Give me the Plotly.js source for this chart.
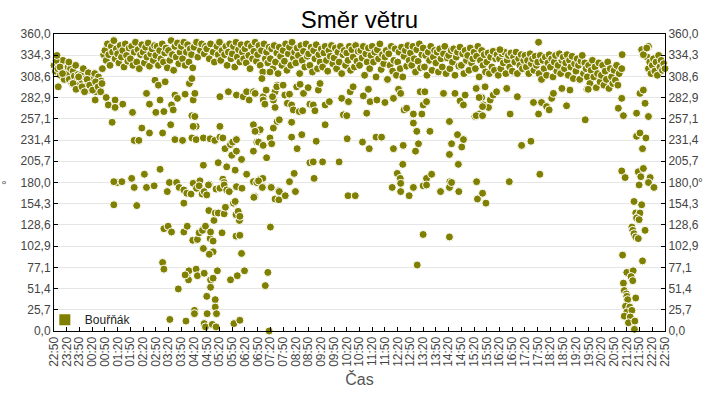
<!DOCTYPE html>
<html>
<head>
<meta charset="utf-8">
<script src="https://cdn.plot.ly/plotly-3.0.1.min.js"></script>
<style>html,body{margin:0;padding:0;background:#fff;}#chart{width:720px;height:400px;}</style>
</head>
<body>
<div id="chart"></div>
<script>
// Time axis: minutes after 22:50 (start of the 24 h window)
const timeLabels = ["22:50","23:20","23:50","00:20","00:50","01:20","01:50","02:20","02:50","03:20","03:50","04:20","04:50","05:20","05:50","06:20","06:50","07:20","07:50","08:20","08:50","09:20","09:50","10:20","10:50","11:20","11:50","12:20","12:50","13:20","13:50","14:20","14:50","15:20","15:50","16:20","16:50","17:20","17:50","18:20","18:50","19:20","19:50","20:20","20:50","21:20","21:50","22:20","22:50"];
const dirLabels = ["0,0","25,7","51,4","77,1","102,9","128,6","154,3","180,0","205,7","231,4","257,1","282,9","308,6","334,3","360,0"];

// Regular samples (every 3 minutes from 22:50), wind direction in degrees
const sampleStepMin = 3;
const sampleDirs = [
322,315,330,318,326,310,321,328,305,317,
312,320,305,318,300,315,309,322,303,311,
298,310,304,318,295,306,300,313,292,302,
305,296,312,290,300,308,294,303,318,335,
340,328,348,335,322,345,338,352,330,342,
336,325,346,332,340,320,348,334,327,343,
330,345,322,338,350,326,341,318,335,347,
338,325,344,332,349,321,336,342,328,346,
334,345,322,340,330,348,326,337,343,319,
340,328,352,335,316,345,332,349,324,338,
345,330,350,322,338,347,326,342,335,319,
344,null,350,332,null,340,348,null,336,345,
342,null,330,348,null,338,326,null,345,335,
350,328,340,null,335,345,322,338,348,330,
336,345,320,350,332,341,326,347,338,330,
342,325,348,334,318,345,330,339,350,327,
335,346,322,340,314,348,330,338,325,344,
330,342,318,346,326,337,312,344,333,322,
340,327,348,316,336,344,322,350,331,338,
325,343,334,312,346,328,339,320,348,333,
336,322,344,314,340,330,347,318,335,326,
342,320,337,345,328,315,340,333,346,324,
331,343,318,338,326,345,312,335,340,322,
337,328,345,316,341,332,320,346,327,339,
322,340,331,345,310,336,326,343,318,334,
345,326,338,308,341,330,348,317,335,324,
332,340,305,336,322,345,315,328,342,310,
326,338,318,344,308,333,340,321,346,328,
337,322,345,330,314,341,327,348,319,335,
343,320,334,310,338,328,345,316,332,340,
325,338,314,342,330,320,336,345,312,331,
334,318,340,326,342,310,332,338,321,344,
322,336,312,340,328,334,316,343,325,330,
338,318,333,345,308,328,340,322,335,314,
326,337,312,332,320,339,316,330,335,310,
330,318,336,325,338,312,328,334,320,337,
315,332,326,338,312,330,322,335,318,328,
334,320,328,312,336,324,330,316,333,322,
326,312,334,305,328,318,332,310,325,335,
320,330,308,326,334,315,322,336,312,328,
332,318,325,335,310,328,320,333,306,324,
315,330,322,305,327,334,312,325,318,308,
322,300,316,328,308,320,295,312,325,302,
310,322,298,315,305,326,294,318,308,300,
316,304,322,298,312,null,318,null,null,null,
null,null,null,null,null,null,null,null,null,null,
null,null,null,null,null,null,332,318,326,312,
322,330,315,326,310,334,320,328,316,324,
318
];

// Additional readings (gusty / turning wind), minute after 22:50 and direction
const extraMinutes = [
5,7,10,14,20,35,45,52,58,66,72,78,84,91,97,98,104,110,113,
123,128,137,144,144,162,185,218,225,250,240,259,277,281,285,291,309,319,328,332,325,332,335,328,
189,200,207,225,256,275,285,303,325,335,352,368,379,391,398,391,403,416,421,430,419,430,442,470,478,482,486,470,490,501,509,517,526,521,
149,160,141,183,213,250,272,289,328,344,352,366,387,398,401,407,427,454,470,478,486,492,
430,446,454,460,490,493,517,526,509,391,411,325,238,246,262,
189,218,236,141,195,267,295,306,306,313,323,336,342,349,354,360,364,382,391,401,407,413,430,443,492,473,511,521,529,530,
259,269,277,306,314,327,338,342,350,352,357,365,368,369,375,377,380,387,375,366,396,401,404,423,427,429,434,437,438,429,438,442,
256,259,313,318,317,309,335,338,354,369,375,385,416,432,449,504,498,
293,369,360,380,380,383,331,331,361,273,311,354,357,373,382,424,438,507,
470,474,500,493,497,521,515,525,540,544,555,550,560,564,572,580,578,588,586,599,603,611,615,623,627,639,649,678,682,690,694,698,705,729,741,737,745,761,780,800,812,817,825,831,847,847,855,867,863,874,870,878,886,918,932,945,957,965,969,996,992,1002,1008,1012,1024,
474,482,493,513,531,560,560,573,584,603,611,618,633,639,672,691,727,743,759,772,800,823,822,852,859,932,937,951,953,965,961,
482,555,566,613,809,816,817,878,890,933,996,
491,471,512,531,545,569,693,710,797,817,837,847,870,878,911,932,954,998,1010,1018,510,870,932,856,937,
995,1002,1010,995,1010,1016,1028,1035,1043,1051,1067,1075,1092,1130,1142,1142,1149,1161,1167,1173,1177,1197,1208,1216,1252,1256,1259,1330,1338,1342,1339,1373,1401,1381,1389,1393,1385,1401,1389,1397,
1102,1124,1145,1373,1381,1395,1387,1338,1346,1377,1389,1383,1405,1073,
1401,1379,1414,1367,1385,1371,1377,1381,1373,1379,1393,1362,1364,1367,1371,1377,1340,1387,1350,1365,1360,1364,1342,1344,1349,1350,1352,1371,1347,1357,1350,1362,1344,1358,1354,1369,1368
];
const extraDirs = [
328,334,296,320,312,326,300,293,308,296,290,305,298,292,280,302,296,290,300,
283,274,253,280,271,275,265,288,275,280,265,266,274,268,286,282,287,300,280,288,261,260,248,248,
231,231,246,240,240,250,232,231,234,232,234,233,231,235,234,248,221,226,229,232,213,218,208,218,229,242,244,250,227,210,234,246,254,271,
180,181,181,185,190,196,180,180,179,182,201,178,204,184,180,199,195,190,181,180,184,185,
286,284,290,280,306,284,280,298,314,284,290,306,304,298,302,
174,174,176,153,152,169,174,171,155,167,166,173,176,166,169,165,177,172,173,177,171,169,175,173,175,163,175,160,170,159,
124,127,120,120,127,110,111,119,122,100,127,146,112,120,109,134,143,143,96,93,119,142,150,155,157,141,145,134,139,115,116,94,
83,75,67,73,62,68,75,67,70,62,64,73,62,67,73,71,55,
51,53,42,38,29,21,25,21,21,14,12,9,5,8,5,9,13,0,
290,288,292,280,275,290,284,296,298,286,287,276,274,268,296,299,266,288,267,295,275,274,267,292,300,274,278,282,262,261,278,290,296,285,293,264,278,280,277,282,293,288,268,270,263,252,242,263,290,290,274,278,242,288,254,288,279,274,286,295,260,263,283,274,271,
242,229,225,227,256,253,235,221,238,204,205,230,205,250,205,233,229,221,235,235,221,225,202,218,227,214,227,238,202,232,223,
182,181,191,185,191,185,179,185,190,181,181,
174,162,174,169,164,169,164,164,174,169,164,174,176,177,169,174,169,160,167,155,126,117,114,80,180,
294,283,272,261,261,296,280,286,290,341,294,263,284,277,350,263,277,272,268,282,288,294,273,292,256,293,293,270,282,261,335,264,260,288,292,276,341,345,335,343,
225,230,190,236,240,234,221,194,186,193,197,187,186,181,
180,177,174,157,153,143,139,143,137,135,122,126,122,118,114,112,92,85,71,73,66,61,58,49,45,42,38,40,30,29,23,25,18,17,10,12,2
];

const minutes = sampleDirs.map((_, i) => i * sampleStepMin).concat(extraMinutes);
const directions = sampleDirs.concat(extraDirs);

const olive = '#808000';
const fontFam = '"Liberation Sans", Arial, sans-serif';
const xTickVals = timeLabels.map((_, i) => i * 30);
const yTickVals = dirLabels.map((_, i) => i * 360 / 14);

const traces = [
  {
    type: 'scatter', mode: 'markers',
    x: minutes, y: directions,
    name: 'Bouřňák', showlegend: false, cliponaxis: false,
    marker: {color: olive, size: 8, line: {color: '#ffffff', width: 1}},
    hoverinfo: 'skip'
  },
  {
    type: 'scatter', mode: 'markers',
    x: [null], y: [null], yaxis: 'y2',
    name: 'Bouřňák', showlegend: true,
    marker: {color: olive, size: 11, symbol: 'square'}
  }
];

const axisCommon = {
  range: [0, 360], tickmode: 'array', tickvals: yTickVals, ticktext: dirLabels,
  ticks: 'inside', ticklen: 4, tickcolor: '#000', showline: true, linecolor: '#000', linewidth: 1,
  zeroline: false, tickfont: {size: 12, color: '#444', family: fontFam}, fixedrange: true
};

const layout = {
  width: 720, height: 400,
  margin: {l: 54, r: 55, t: 34, b: 69, pad: 0},
  paper_bgcolor: '#ffffff', plot_bgcolor: '#ffffff',
  font: {family: fontFam, size: 12, color: '#444'},
  title: {text: 'Směr větru', font: {size: 24, color: '#000', family: fontFam}, x: 0.5, xref: 'paper', xanchor: 'center', y: 0.95, yref: 'container', yanchor: 'middle'},
  showlegend: true,
  legend: {x: -0.015, y: -0.011, xanchor: 'left', yanchor: 'bottom', bgcolor: 'rgba(0,0,0,0)', borderwidth: 0, font: {size: 12, color: '#222', family: fontFam}, itemwidth: 30},
  xaxis: {
    range: [0, 1440], tickmode: 'array', tickvals: xTickVals, ticktext: timeLabels, tickangle: -90,
    ticks: 'inside', ticklen: 4, tickcolor: '#000', showline: true, linecolor: '#000', linewidth: 1, mirror: true,
    showgrid: false, zeroline: false, tickfont: {size: 12, color: '#444', family: fontFam}, fixedrange: true,
    title: {text: 'Čas', font: {size: 16, color: '#555', family: fontFam}, standoff: 7}
  },
  yaxis: Object.assign({}, axisCommon, {
    side: 'left', mirror: true, showgrid: true, gridcolor: '#e6e6e6', gridwidth: 1,
    title: {text: '°', font: {size: 12, color: '#444', family: fontFam}, standoff: 12}
  }),
  yaxis2: Object.assign({}, axisCommon, {
    side: 'right', overlaying: 'y', showgrid: false
  }),
  annotations: [
    {text: '°', xref: 'paper', yref: 'y', x: 1.0505, y: 180, xanchor: 'left', yanchor: 'middle', showarrow: false, font: {size: 12, color: '#444', family: fontFam}}
  ]
};

Plotly.newPlot('chart', traces, layout, {staticPlot: true, displayModeBar: false});
</script>
</body>
</html>
